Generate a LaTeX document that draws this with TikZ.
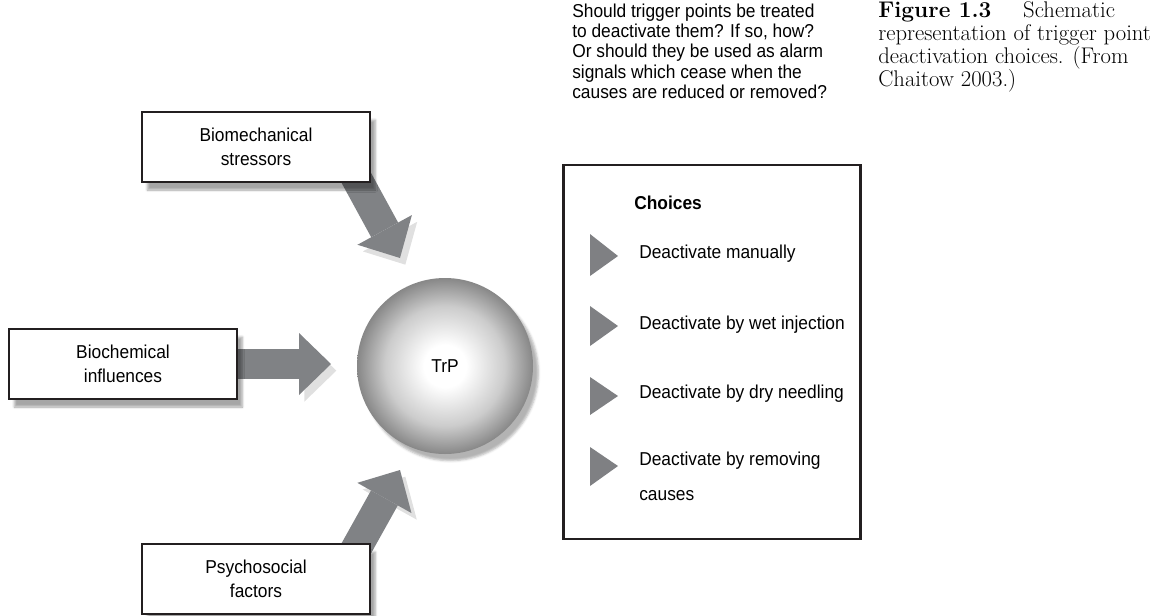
\documentclass[tikz,border=0pt]{standalone}
\usepackage{fontspec}
\newfontfamily\narrowsf[FakeStretch=0.93]{Liberation Sans}
\usetikzlibrary{arrows.meta, positioning, shapes.geometric, backgrounds, shadows.blur}
\definecolor{arrowGray}{HTML}{808285}
\definecolor{triGray}{HTML}{7F8083}
\definecolor{boxLine}{HTML}{231F20}
\pgfdeclareradialshading{trpShade}{\pgfpoint{0bp}{0bp}}{%
  color(0bp)=(white); color(6bp)=(white); color(17bp)=(black!20);
  color(25bp)=(black!47); color(50bp)=(black!47)}
\tikzset{
  factorBox/.style={rectangle, draw=boxLine, line width=2pt, fill=white,
                    minimum width=171pt, minimum height=52.5pt, align=center,
                    font=\narrowsf\fontsize{14}{18}\selectfont,
                    blur shadow={shadow xshift=4pt, shadow yshift=-6pt,
                                 shadow blur steps=6, shadow opacity=35}},
  fatArrow/.style={arrowGray, line width=23pt,
                   -{Triangle[length=24pt, width=46.5pt, line width=0pt]},
                   preaction={draw=black!12, transform canvas={shift={(4pt,-5pt)}}}},
  choiceText/.style={anchor=west, inner sep=0pt, align=left,
                     font=\narrowsf\fontsize{14}{26}\selectfont},
  choiceTri/.style={fill=triGray},
}

\begin{document}
\begin{tikzpicture}[x=0.75pt, y=-0.75pt]
    \useasboundingbox (0,0) rectangle (1153,615);

    % the three groups of causes
    \node[factorBox] (bm) at (256,147) {Biomechanical\\stressors};
    \node[factorBox] (bc) at (123,364) {Biochemical\\influences};
    \node[factorBox] (ps) at (256,579) {Psychosocial\\factors};

    \node[circle, minimum size=132pt, shading=trpShade,
          blur shadow={shadow xshift=4pt, shadow yshift=-5pt, shadow opacity=30},
          font=\narrowsf\fontsize{14}{18}\selectfont] (trp) at (445,366) {TrP};

    \coordinate (bmTail) at (352,170);
    \coordinate (bmTip)  at (400,258);
    \coordinate (bcTip)  at (331,364);
    \coordinate (psTail) at (352,556);
    \coordinate (psTip)  at (400,470);

    \begin{scope}[on background layer]
      \draw[fatArrow] (bmTail) -- (bmTip);
      \draw[fatArrow] (bc.center) -- (bcTip);
      \draw[fatArrow] (psTail) -- (psTip);
    \end{scope}

    % question and caption
    \node[anchor=north west, inner sep=0pt, align=left,
          font=\narrowsf\fontsize{14}{15.2}\selectfont] (question) at (572,3.5)
      {Should trigger points be treated\\to deactivate them? If so, how?\\
       Or should they be used as alarm\\signals which cease when the\\
       causes are reduced or removed?};
    \node[anchor=north west, inner sep=0pt, align=left,
          font=\fontsize{17}{17.25}\selectfont] (caption) at (878,1.5)
      {\textbf{Figure 1.3}\hspace{1.4em}Schematic\\representation of trigger point\\
       deactivation choices. (From\\Chaitow 2003.)};

    % choices
    \node[rectangle, draw=boxLine, line width=1.8pt, minimum width=222.75pt,
          minimum height=280.5pt] (choices) at (712,352) {};
    \node[choiceText, font=\narrowsf\bfseries\fontsize{14}{18}\selectfont]
      (title) at (634,203) {Choices};
    \node[choiceText] (c1) at (639,254) {Deactivate manually};
    \node[choiceText] (c2) at (639,325) {Deactivate by wet injection};
    \node[choiceText] (c3) at (639,394) {Deactivate by dry needling};
    \node[choiceText, anchor=north west] (c4) at (639,452)
      {Deactivate by removing\\causes};

    \fill[choiceTri, shift={(c1.west)}] (-49,-20) -- (-21,2) -- (-49,22) -- cycle;
    \fill[choiceTri, shift={(c2.west)}] (-49,-19) -- (-21,1) -- (-49,21) -- cycle;
    \fill[choiceTri, shift={(c3.west)}] (-49,-17) -- (-21,2) -- (-49,21) -- cycle;
    \fill[choiceTri, shift={(639,466)}] (-49,-19) -- (-21,0) -- (-49,20) -- cycle;
\end{tikzpicture}
\end{document}
